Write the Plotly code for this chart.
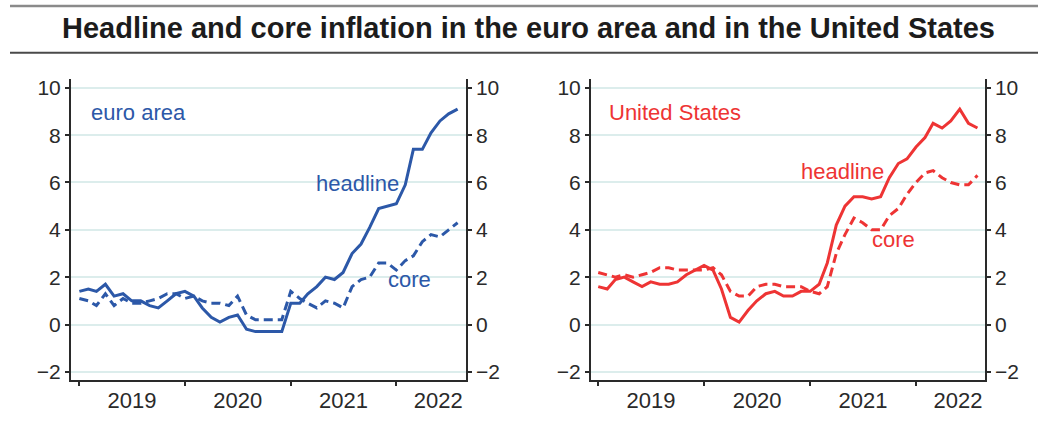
import plotly.graph_objects as go
import pandas as pd

months = pd.date_range("2019-01-01", "2022-08-01", freq="MS")

ea_headline = [1.4, 1.5, 1.4, 1.7, 1.2, 1.3, 1.0, 1.0, 0.8, 0.7, 1.0, 1.3,
               1.4, 1.2, 0.7, 0.3, 0.1, 0.3, 0.4, -0.2, -0.3, -0.3, -0.3, -0.3,
               0.9, 0.9, 1.3, 1.6, 2.0, 1.9, 2.2, 3.0, 3.4, 4.1, 4.9, 5.0,
               5.1, 5.9, 7.4, 7.4, 8.1, 8.6, 8.9, 9.1]
ea_core = [1.1, 1.0, 0.8, 1.3, 0.8, 1.1, 0.9, 0.9, 1.0, 1.1, 1.3, 1.3,
           1.1, 1.2, 1.0, 0.9, 0.9, 0.8, 1.2, 0.4, 0.2, 0.2, 0.2, 0.2,
           1.4, 1.1, 0.9, 0.7, 1.0, 0.9, 0.7, 1.6, 1.9, 2.0, 2.6, 2.6,
           2.3, 2.7, 2.9, 3.5, 3.8, 3.7, 4.0, 4.3]
us_headline = [1.6, 1.5, 1.9, 2.0, 1.8, 1.6, 1.8, 1.7, 1.7, 1.8, 2.1, 2.3,
               2.5, 2.3, 1.5, 0.3, 0.1, 0.6, 1.0, 1.3, 1.4, 1.2, 1.2, 1.4,
               1.4, 1.7, 2.6, 4.2, 5.0, 5.4, 5.4, 5.3, 5.4, 6.2, 6.8, 7.0,
               7.5, 7.9, 8.5, 8.3, 8.6, 9.1, 8.5, 8.3]
us_core = [2.2, 2.1, 2.0, 2.1, 2.0, 2.1, 2.2, 2.4, 2.4, 2.3, 2.3, 2.3,
           2.3, 2.4, 2.1, 1.4, 1.2, 1.2, 1.6, 1.7, 1.7, 1.6, 1.6, 1.6,
           1.4, 1.3, 1.6, 3.0, 3.8, 4.5, 4.3, 4.0, 4.0, 4.6, 4.9, 5.5,
           6.0, 6.4, 6.5, 6.2, 6.0, 5.9, 5.9, 6.3]

year_ticks = ["2019-01-01", "2020-01-01", "2021-01-01", "2022-01-01"]
year_label_pos = ["2019-07-02", "2020-07-02", "2021-07-02", "2022-05-26"]
year_labels = ["2019", "2020", "2021", "2022"]
y_ticks = [-2, 0, 2, 4, 6, 8, 10]

BLUE = "#2c58a8"
RED = "#ee3434"
FONT = "Liberation Sans, Arial, sans-serif"
AX = "#2a2a2a"
GRID = "#dcedec"

W, H = 1038, 429
def px_x(p): return p / W
def px_y(p): return 1 - p / H

fig = go.Figure()
fig.add_trace(go.Scatter(x=months, y=ea_headline, mode="lines", line=dict(color=BLUE, width=3),
                         xaxis="x", yaxis="y", showlegend=False))
fig.add_trace(go.Scatter(x=months, y=ea_core, mode="lines", line=dict(color=BLUE, width=3, dash="9px,5px"),
                         xaxis="x", yaxis="y", showlegend=False))
fig.add_trace(go.Scatter(x=months, y=us_headline, mode="lines", line=dict(color=RED, width=3),
                         xaxis="x2", yaxis="y2", showlegend=False))
fig.add_trace(go.Scatter(x=months, y=us_core, mode="lines", line=dict(color=RED, width=3, dash="9px,5px"),
                         xaxis="x2", yaxis="y2", showlegend=False))

yrange = [-2.33, 10.375]
ydom = [px_y(382), px_y(77)]

def xaxis(dom, rng, anchor):
    return dict(domain=dom, range=rng, anchor=anchor, type="date",
                tickvals=year_label_pos, ticktext=year_labels, ticks="",
                tickfont=dict(size=22, color=AX, family=FONT),
                showgrid=False, zeroline=False, showline=True, linecolor=AX, linewidth=1.5,
                minor=dict(tickvals=year_ticks, ticks="outside", ticklen=5, tickwidth=1.5,
                           tickcolor=AX, showgrid=False))

def yaxis(anchor, side, overlay=None, grid=True):
    d = dict(domain=ydom, range=yrange, anchor=anchor, side=side, tickvals=y_ticks,
             ticks="outside", ticklen=4, tickwidth=1.5, tickcolor=AX,
             tickfont=dict(size=21, color=AX, family=FONT),
             showgrid=grid, gridcolor=GRID, gridwidth=1.5, zeroline=False,
             showline=True, linecolor=AX, linewidth=1.5)
    if overlay:
        d["overlaying"] = overlay
    return d

fig.update_layout(
    width=W, height=H, autosize=False,
    margin=dict(l=0, r=0, t=0, b=0),
    paper_bgcolor="white", plot_bgcolor="white",
    font=dict(family=FONT, color=AX),
    xaxis=xaxis([px_x(70.7), px_x(466)], ["2018-12-02", "2022-08-30"], "y"),
    yaxis=yaxis("x", "left"),
    yaxis3=yaxis("x", "right", overlay="y", grid=False),
    xaxis2=xaxis([px_x(590.7), px_x(985)], ["2018-12-06", "2022-08-27"], "y2"),
    yaxis2=yaxis("x2", "left"),
    yaxis4=yaxis("x2", "right", overlay="y2", grid=False),
)

# invisible traces to attach the right-hand axes
fig.add_trace(go.Scatter(x=months, y=ea_headline, mode="lines", line=dict(width=0),
                         opacity=0, xaxis="x", yaxis="y3", showlegend=False, hoverinfo="skip"))
fig.add_trace(go.Scatter(x=months, y=us_headline, mode="lines", line=dict(width=0),
                         opacity=0, xaxis="x2", yaxis="y4", showlegend=False, hoverinfo="skip"))

def ann(text, x, y, color, size=22, xanchor="left", bold=False):
    fig.add_annotation(text=f"<b>{text}</b>" if bold else text, xref="paper", yref="paper",
                       x=px_x(x), y=px_y(y), xanchor=xanchor, yanchor="middle",
                       showarrow=False, font=dict(size=size, color=color, family=FONT))

ann("Headline and core inflation in the euro area and in the United States", 528, 25, "#1c1c1c",
    size=29, xanchor="center", bold=True)
ann("euro area", 89, 111.3, BLUE)
ann("headline", 314, 183.3, BLUE)
ann("core", 386, 280.3, BLUE)
ann("United States", 607, 111.3, RED)
ann("headline", 799, 171.3, RED)
ann("core", 870, 240.3, RED)

fig.add_shape(type="line", xref="paper", yref="paper", x0=px_x(10), x1=1, y0=px_y(3), y1=px_y(3),
              line=dict(color="#8a8a8a", width=2.5))
fig.add_shape(type="line", xref="paper", yref="paper", x0=px_x(10), x1=1, y0=px_y(50.5), y1=px_y(50.5),
              line=dict(color="#4a4a4a", width=2))

fig.write_html("out.html", config={"displayModeBar": False})

with open("out.html", encoding="utf-8") as f:
    html = f.read()
html = html.replace("<body>", '<body style="margin:0;padding:0;overflow:hidden">', 1)
with open("out.html", "w", encoding="utf-8") as f:
    f.write(html)
